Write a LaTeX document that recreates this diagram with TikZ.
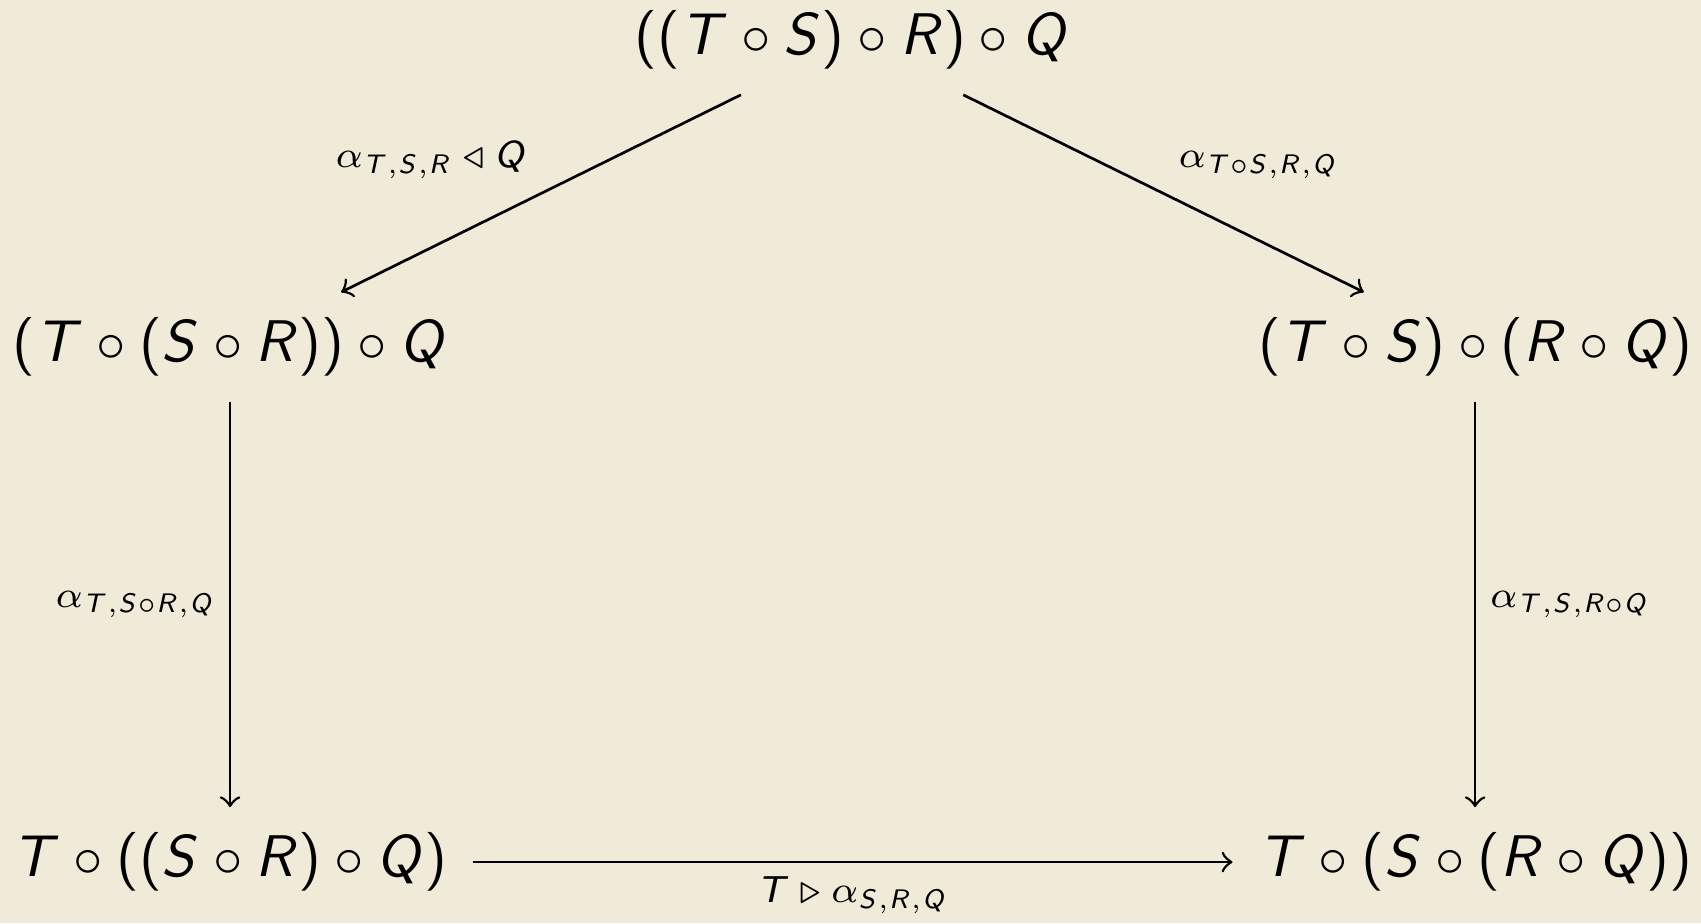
\documentclass[tikz,border=0pt]{standalone}
\usetikzlibrary{positioning}
% sans serif letters and brackets, as in slides
\DeclareSymbolFont{sfletters}{OT1}{cmss}{m}{sl}
\DeclareMathSymbol{T}{\mathalpha}{sfletters}{`T}
\DeclareMathSymbol{S}{\mathalpha}{sfletters}{`S}
\DeclareMathSymbol{R}{\mathalpha}{sfletters}{`R}
\DeclareMathSymbol{Q}{\mathalpha}{sfletters}{`Q}
\SetSymbolFont{operators}{normal}{OT1}{cmss}{m}{n}
\definecolor{paper}{HTML}{F0EAD8}

\begin{document}
\begin{tikzpicture}[
        >=to, line width=0.5pt,
        obj/.style={font=\fontsize{10.95}{13}\selectfont, inner sep=0.45em},
        lbl/.style={font=\scriptsize, inner sep=2.5pt}
    ]
    \path[use as bounding box, fill=paper] (0,0) rectangle (11.143,-6.047);

    \node[obj] (top) at (5.581,-0.262) {$((T\circ S)\circ R)\circ Q$};
    \node[obj] (midl) at (1.507,-2.273) {$(T\circ (S\circ R))\circ Q$};
    \node[obj] (midr) at (9.663,-2.273) {$(T\circ S)\circ (R\circ Q)$};
    \node[obj] (botl) at (1.507,-5.647) {$T\circ ((S\circ R)\circ Q)$};
    \node[obj] (botr) at (9.663,-5.647) {$T\circ (S\circ (R\circ Q))$};

    \draw[->] (top) -- node[lbl, above left] {$\alpha_{T,S,R}\triangleleft Q$} (midl);
    \draw[->] (top) -- node[lbl, above right] {$\alpha_{T\circ S,R,Q}$} (midr);
    \draw[->] (midl) -- node[lbl, left] {$\alpha_{T,S\circ R,Q}$} (botl);
    \draw[->] (midr) -- node[lbl, right] {$\alpha_{T,S,R\circ Q}$} (botr);
    \draw[->] (botl) -- node[lbl, below] {$T\triangleright\alpha_{S,R,Q}$} (botr);
\end{tikzpicture}
\end{document}
